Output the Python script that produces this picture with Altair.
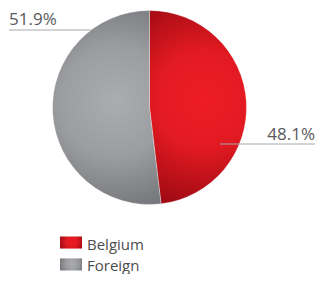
import altair as alt
import pandas as pd

categories = ["Belgium", "Foreign"]
shares = [48.1, 51.9]
order = [1, 2]

df = pd.DataFrame({"category": categories, "share": shares, "order": order})

red_grad = {
    "gradient": "radial",
    "x1": 0.53, "y1": 0.46, "r1": 0,
    "x2": 0.53, "y2": 0.46, "r2": 0.56,
    "stops": [
        {"offset": 0, "color": "#ee1c25"},
        {"offset": 0.45, "color": "#e21a22"},
        {"offset": 1, "color": "#a00a13"},
    ],
}
gray_grad = {
    "gradient": "radial",
    "x1": 0.54, "y1": 0.47, "r1": 0,
    "x2": 0.54, "y2": 0.47, "r2": 0.56,
    "stops": [
        {"offset": 0, "color": "#abacaf"},
        {"offset": 0.5, "color": "#9c9da0"},
        {"offset": 1, "color": "#76777a"},
    ],
}

is_bel = alt.datum.category == "Belgium"
fill_cond = alt.condition(is_bel, alt.value(red_grad), alt.value(gray_grad))

base = alt.Chart(df)
font = "Open Sans"

line_foreign = base.transform_filter(alt.datum.category == "Foreign").mark_rule(
    color="#a7a8aa", strokeWidth=1
).encode(x=alt.value(1), x2=alt.value(92), y=alt.value(22))

pie = base.mark_arc(outerRadius=97, stroke="#ffffff", strokeWidth=0.5, strokeOpacity=0.6).encode(
    theta=alt.Theta("share:Q", stack=True),
    order=alt.Order("order:Q"),
    fill=fill_cond,
    x=alt.value(141.5),
    y=alt.value(99.5),
)

line_bel = base.transform_filter(is_bel).mark_rule(
    color="#a7a8aa", strokeWidth=1
).encode(x=alt.value(212), x2=alt.value(307), y=alt.value(136))

lab = base.transform_calculate(label="format(datum.share, '.1f') + '%'")
lab_foreign = lab.transform_filter(alt.datum.category == "Foreign").mark_text(
    font=font, fontSize=17, color="#58595b", align="left", baseline="alphabetic"
).encode(text="label:N", x=alt.value(1), y=alt.value(17))
lab_bel = lab.transform_filter(is_bel).mark_text(
    font=font, fontSize=17, color="#58595b", align="right", baseline="alphabetic"
).encode(text="label:N", x=alt.value(307), y=alt.value(132))

yscale = alt.Scale(type="band", domain=categories, range=[228.5, 262.5], paddingInner=0.45, paddingOuter=0)
leg_rect = base.mark_rect().encode(
    y=alt.Y("category:N", scale=yscale, axis=None),
    x=alt.value(52), x2=alt.value(74),
    fill=fill_cond,
)
leg_text = base.mark_text(
    font=font, fontSize=15, color="#4d4d4f", align="left", baseline="alphabetic", dy=7
).encode(
    y=alt.Y("category:N", scale=yscale, axis=None),
    x=alt.value(79),
    text="category:N",
)

chart = alt.layer(line_foreign, pie, line_bel, lab_foreign, lab_bel, leg_rect, leg_text).properties(
    width=307, height=266,
    autosize=alt.AutoSizeParams(type="fit", contains="padding"),
    padding=0,
).configure_view(stroke=None)

chart.save("out.html", embed_options={"renderer": "svg", "actions": False})
